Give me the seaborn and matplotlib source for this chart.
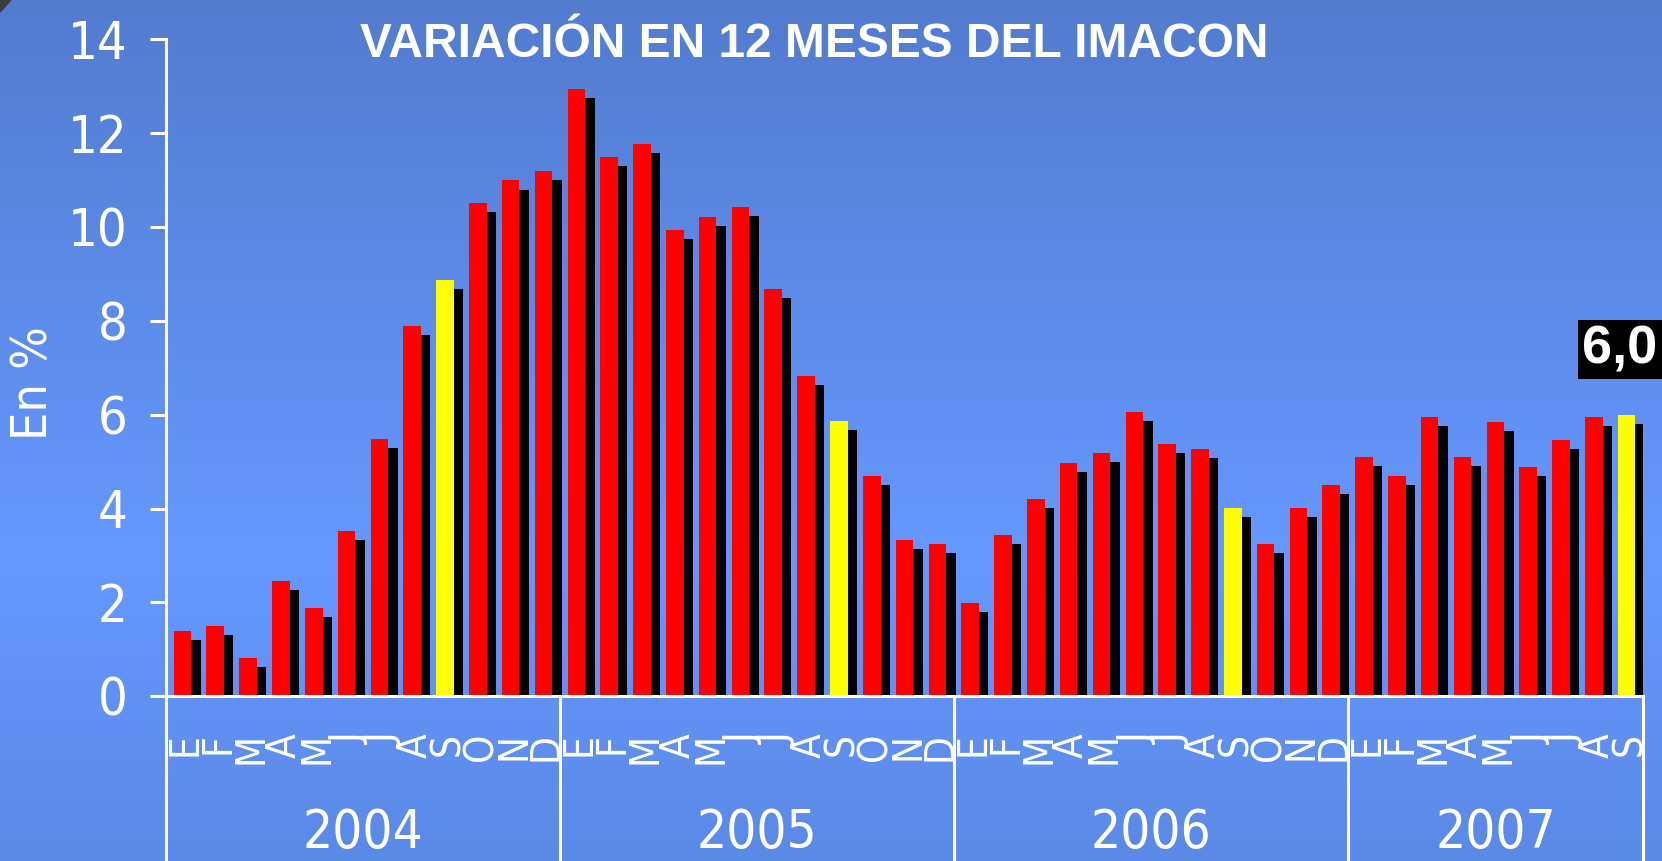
"""Variación en 12 meses del IMACON (barras mensuales con sombra)."""
import numpy as np
import pandas as pd
import matplotlib.pyplot as plt
import matplotlib.transforms as mtransforms
from matplotlib import font_manager
from matplotlib import patheffects as pe
from matplotlib.colors import LinearSegmentedColormap
from matplotlib.lines import Line2D
from matplotlib.patches import Polygon
import seaborn as sns

YEARS = ['2004', '2005', '2006', '2007']
MONTHS = ['E', 'F', 'M', 'A', 'M', 'J', 'J', 'A', 'S', 'O', 'N', 'D']
VAR_2004 = [1.39, 1.49, 0.81, 2.46, 1.88, 3.52, 5.48, 7.89, 8.86, 10.51, 10.99, 11.19]
VAR_2005 = [12.94, 11.48, 11.77, 9.93, 10.22, 10.42, 8.67, 6.83, 5.87, 4.70, 3.33, 3.25]
VAR_2006 = [1.99, 3.44, 4.20, 4.97, 5.18, 6.06, 5.38, 5.27, 4.01, 3.25, 4.02, 4.50]
VAR_2007 = [5.09, 4.70, 5.95, 5.09, 5.85, 4.89, 5.47, 5.95, 6.0]
HIGHLIGHT = 8   # septiembre en amarillo

TITLE = 'VARIACIÓN EN 12 MESES DEL IMACON'
YLABEL = 'En %'

sns.set_theme(style='white')

# fuente tipo Tahoma: DejaVu Sans condensada si existe
entries = {(f.name, f.stretch) for f in font_manager.fontManager.ttflist}
names = {e[0] for e in entries}
if 'DejaVu Sans Condensed' in names:
    FAM, STRETCH = 'DejaVu Sans Condensed', 'normal'
elif ('DejaVu Sans', 'condensed') in entries:
    FAM, STRETCH = 'DejaVu Sans', 'condensed'
else:
    FAM, STRETCH = 'Noto Sans', 'normal'
plt.rcParams['font.family'] = [FAM, 'DejaVu Sans']
plt.rcParams['font.stretch'] = STRETCH

rows = []
for year, vals in zip(YEARS, [VAR_2004, VAR_2005, VAR_2006, VAR_2007]):
    for m, v in enumerate(vals):
        rows.append({'periodo': f'{year}-{m + 1:02d}', 'mes': MONTHS[m], 'anio': year,
                     'var': v, 'tipo': 'sep' if m == HIGHLIGHT else 'otro'})
df = pd.DataFrame(rows)
n = len(df)

fig = plt.figure(figsize=(16.62, 8.61), dpi=100)

# fondo degradado azul
bg = fig.add_axes([0, 0, 1, 1], zorder=-10)
grad = LinearSegmentedColormap.from_list(
    'bg', [(0, '#537CCF'), (0.65, '#6698FF'), (1, '#5B89E6')])
bg.imshow(np.linspace(0, 1, 256).reshape(-1, 1), aspect='auto', cmap=grad,
          extent=[0, 1, 0, 1])
bg.axis('off')
fig.add_artist(Polygon([(0, 1), (0.0065, 1), (0, 1 - 0.014)], closed=True,
                       transform=fig.transFigure, color='#3c3c3c'))

ax = fig.add_axes([0.0999, 0.1912, 0.8887, 0.7633])
ax.patch.set_alpha(0)
sns.barplot(data=df, x='periodo', y='var', hue='tipo', order=df['periodo'],
            palette={'otro': '#FF0000', 'sep': '#FFFF00'}, width=0.535,
            saturation=1, dodge=False, legend=False, linewidth=0, ax=ax)
for p in ax.patches:
    p.set_path_effects([pe.SimplePatchShadow(offset=(6.8, -6.5), shadow_rgbFace='black',
                                             alpha=1.0), pe.Normal()])

ax.set_xlim(-0.5, n - 0.5)
ax.set_ylim(0, 14)
ax.set_yticks(range(0, 15, 2))
ax.set_xticks(np.arange(-0.5, n, 1))
ax.set_xticklabels([])
ax.tick_params(axis='x', length=50, width=2.2, color='white', direction='out')
ax.tick_params(axis='y', length=11.5, width=2.2, color='white', labelsize=37.5,
               labelcolor='white', pad=16, direction='out', left=True)
for s in ['top', 'right']:
    ax.spines[s].set_visible(False)
for s in ['left', 'bottom']:
    ax.spines[s].set_color('white')
    ax.spines[s].set_linewidth(2.2)
ax.set_xlabel('')
ax.set_ylabel('')
ax.grid(False)

trans = mtransforms.blended_transform_factory(ax.transData, fig.transFigure)

# letras de los meses, giradas 90°
month_trans = trans + mtransforms.ScaledTranslation(0.145, 0, fig.dpi_scale_trans)
for i, m in enumerate(df['mes']):
    ax.text(i, 0.1487, m, transform=month_trans, rotation=90, rotation_mode='anchor',
            ha='right', va='baseline', fontsize=29, color='white', clip_on=False)

# separadores y etiquetas de año
counts = df.groupby('anio', sort=False).size().values
bounds = np.concatenate([[0], np.cumsum(counts)]) - 0.5
for b in bounds:
    fig.add_artist(Line2D([b, b], [0, 0.1912], transform=trans, color='white', lw=2.2))
for year, a, b in zip(YEARS, bounds[:-1], bounds[1:]):
    ax.text((a + b) / 2, 0.0151, year, transform=trans, ha='center', va='baseline',
            fontsize=38, color='white', clip_on=False)

fig.text(0.4898, 0.9338, TITLE, ha='center', va='baseline', fontsize=34.5,
         fontweight='bold', color='white', family=['Liberation Sans', 'DejaVu Sans'],
         fontstretch='normal')
fig.text(34 / 1662, 1 - 383 / 861, YLABEL, rotation=90, ha='center', va='center',
         fontsize=36, color='white')

last = df['var'].iloc[-1]
ax.annotate(f'{last:.1f}'.replace('.', ','), xy=(n - 1, last), xytext=(-5, 47),
            textcoords='offset points', ha='center', va='center', fontsize=39,
            fontweight='bold', color='white', family=['Liberation Sans', 'DejaVu Sans'],
            fontstretch='normal',
            bbox=dict(boxstyle='square,pad=0.08', fc='black', ec='none'),
            annotation_clip=False)

fig.savefig('out.png', dpi=100)
